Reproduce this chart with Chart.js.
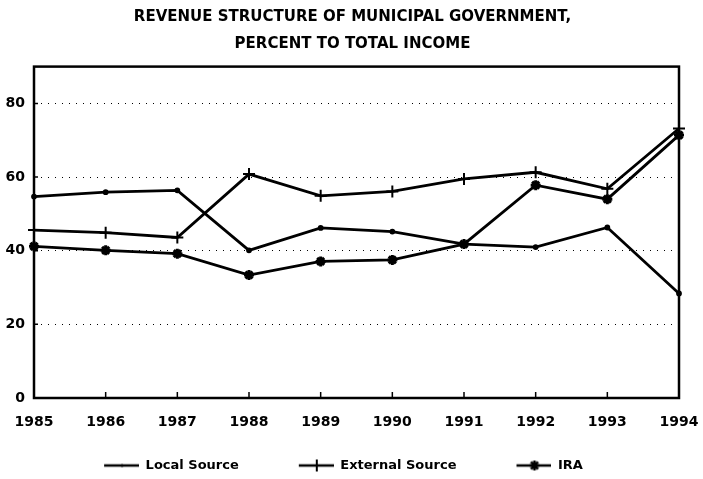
<!DOCTYPE html>
<html>
<head>
<meta charset="utf-8">
<script src="https://cdn.jsdelivr.net/npm/chart.js@4/dist/chart.umd.min.js"></script>
<style>
  html, body { margin: 0; padding: 0; background: #fff; }
  #wrap { width: 703px; height: 479px; }
</style>
</head>
<body>
<div id="wrap"><canvas id="chart" width="703" height="479"></canvas></div>
<script>
const years = ["1985", "1986", "1987", "1988", "1989", "1990", "1991", "1992", "1993", "1994"];
const localSource = [54.7, 55.9, 56.4, 40.1, 46.2, 45.2, 41.8, 41.0, 46.3, 28.4];
const externalSource = [45.6, 44.9, 43.6, 60.8, 54.9, 56.1, 59.5, 61.3, 56.8, 73.2];
const ira = [41.2, 40.1, 39.2, 33.4, 37.1, 37.5, 41.8, 57.8, 54.0, 71.4];
const yTicks = [0, 20, 40, 60, 80];

const FONT = "'DejaVu Sans', 'Liberation Sans', sans-serif";

// legend samples: line with the marker in the middle, 30px empty on the left
function legendSample(kind) {
  const c = document.createElement("canvas");
  c.width = 65; c.height = 14;
  const g = c.getContext("2d");
  g.strokeStyle = "#000"; g.fillStyle = "#000";
  g.lineWidth = 2.5;
  g.beginPath(); g.moveTo(30, 7); g.lineTo(65, 7); g.stroke();
  const cx = 48;
  if (kind === "cross") {
    g.lineWidth = 2;
    g.beginPath(); g.moveTo(cx, 1); g.lineTo(cx, 13); g.stroke();
  } else if (kind === "star") {
    g.lineWidth = 2.5;
    g.beginPath();
    for (let i = 0; i < 4; i++) {
      const a = i * Math.PI / 4;
      g.moveTo(cx - 5 * Math.cos(a), 7 - 5 * Math.sin(a));
      g.lineTo(cx + 5 * Math.cos(a), 7 + 5 * Math.sin(a));
    }
    g.stroke();
  } else {
    g.beginPath(); g.arc(cx, 7, 1.5, 0, Math.PI * 2); g.fill();
  }
  return c;
}
const samples = [legendSample("dot"), legendSample("cross"), legendSample("star")];

// frame box + inward tick marks
const framePlugin = {
  id: "frame",
  afterDatasetsDraw(chart) {
    const { ctx, chartArea: a, scales } = chart;
    ctx.save();
    ctx.strokeStyle = "#000";
    ctx.lineWidth = 2.5;
    ctx.strokeRect(a.left, a.top, a.right - a.left, a.bottom - a.top);
    ctx.lineWidth = 1.5;
    ctx.beginPath();
    years.forEach((y, i) => {
      const x = scales.x.getPixelForValue(i);
      ctx.moveTo(x, a.bottom); ctx.lineTo(x, a.bottom - 6);
    });
    yTicks.forEach(v => {
      const py = scales.y.getPixelForValue(v);
      ctx.moveTo(a.left, py); ctx.lineTo(a.left + 4, py);
    });
    ctx.stroke();
    ctx.restore();
  }
};

// keep the legend short and shift it a bit to the left
const legendFitPlugin = {
  id: "legendFit",
  beforeLayout(chart) {
    const lg = chart.legend;
    if (!lg || lg._patched) return;
    lg._patched = true;
    const fit = lg.fit;
    lg.fit = function () { fit.call(this); this.height = 50; };
    const draw = lg.draw;
    lg.draw = function () {
      const ctx = this.ctx;
      ctx.save(); ctx.translate(-24, 0); draw.call(this); ctx.restore();
    };
  }
};

new Chart(document.getElementById("chart"), {
  type: "line",
  data: {
    labels: years,
    datasets: [
      {
        label: "Local Source",
        data: localSource,
        borderColor: "#000",
        backgroundColor: "#000",
        borderWidth: 2.8,
        pointStyle: "circle",
        pointRadius: 1.5,
        tension: 0,
      },
      {
        label: "External Source",
        data: externalSource,
        borderColor: "#000",
        backgroundColor: "#000",
        borderWidth: 2.8,
        pointStyle: "cross",
        pointRadius: 6,
        pointBorderWidth: 2,
        tension: 0,
      },
      {
        label: "IRA",
        data: ira,
        borderColor: "#000",
        backgroundColor: "#000",
        borderWidth: 2.8,
        pointStyle: "star",
        pointRadius: 5,
        pointBorderWidth: 3,
        tension: 0,
      },
    ],
  },
  options: {
    responsive: false,
    animation: false,
    layout: { padding: { left: 2, right: 0, bottom: 0, top: 0 } },
    scales: {
      x: {
        offset: false,
        grid: { display: false },
        border: { display: false },
        afterFit: scale => {
          scale.height = 31;
          scale.paddingRight = 24;
        },
        ticks: {
          color: "#000",
          maxRotation: 0,
          autoSkip: false,
          padding: 8,
          font: { family: FONT, weight: "bold", size: 14 },
        },
      },
      y: {
        min: 0,
        max: 90,
        afterBuildTicks: scale => {
          scale.ticks = yTicks.map(v => ({ value: v }));
        },
        afterFit: scale => { scale.width = 32; },
        grid: {
          color: ctx => (ctx.tick && ctx.tick.value === 0 ? "rgba(0,0,0,0)" : "#000"),
          lineWidth: 1,
          drawTicks: false,
        },
        border: { display: false, dash: [1, 6] },
        ticks: {
          color: "#000",
          padding: 9,
          font: { family: FONT, weight: "bold", size: 14 },
        },
      },
    },
    plugins: {
      title: {
        display: true,
        text: ["REVENUE STRUCTURE OF MUNICIPAL GOVERNMENT,", "PERCENT TO TOTAL INCOME"],
        color: "#000",
        font: { family: FONT, weight: "bold", size: 15, lineHeight: 1.82 },
        padding: { top: 3, bottom: 9 },
      },
      legend: {
        position: "bottom",
        labels: {
          color: "#000",
          usePointStyle: true,
          pointStyleWidth: 65,
          padding: 30,
          font: { family: FONT, weight: "bold", size: 13 },
          generateLabels: chart => {
            const items = Chart.defaults.plugins.legend.labels.generateLabels(chart);
            items.forEach((it, i) => { it.pointStyle = samples[i]; });
            return items;
          },
        },
      },
      tooltip: { enabled: false },
    },
  },
  plugins: [framePlugin, legendFitPlugin],
});
</script>
</body>
</html>
